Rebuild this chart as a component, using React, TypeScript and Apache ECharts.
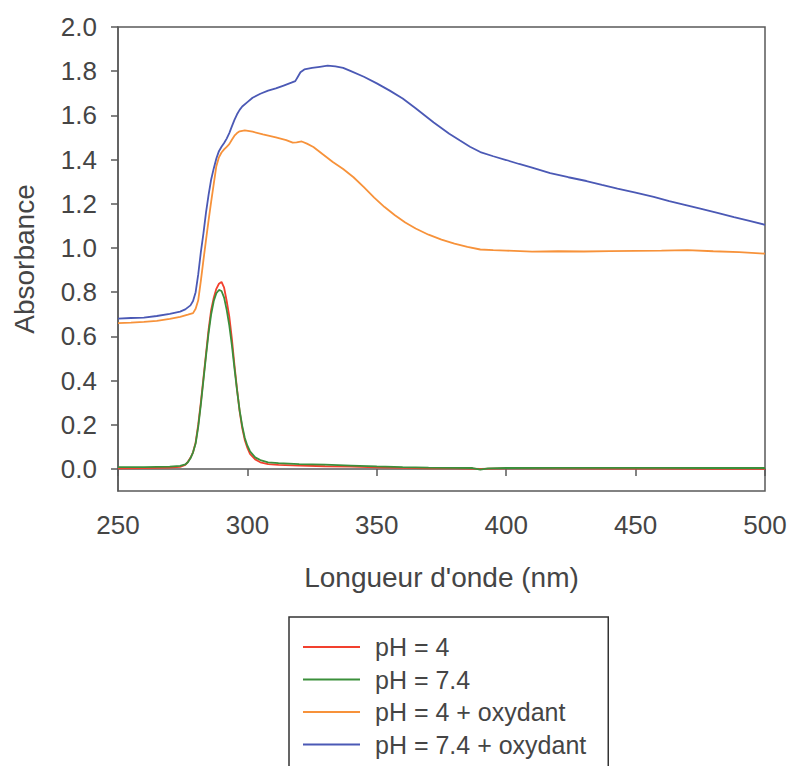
import React, { useEffect, useRef } from "react";
import * as echarts from "echarts";

const seriesNames = ["pH = 4", "pH = 7.4", "pH = 4 + oxydant", "pH = 7.4 + oxydant"];
const seriesColors = ["#f2402e", "#3b8f3b", "#f7923a", "#4b59b5"];

const xTicks = [250, 300, 350, 400, 450, 500];
const yTicks = [0, 0.2, 0.4, 0.6, 0.8, 1.0, 1.2, 1.4, 1.6, 1.8, 2.0];

const ph4X = [250, 260, 270, 274, 276, 277, 278, 279, 280, 281, 282, 283, 284, 285, 286, 287, 288, 289, 290, 291, 292, 293, 294, 295, 296, 297, 298, 299, 300, 301, 303, 305, 308, 312, 320, 330, 340, 350, 360, 370, 380, 390, 400, 420, 440, 460, 480, 500];
const ph4Y = [0.002, 0.004, 0.006, 0.009, 0.018, 0.032, 0.05, 0.075, 0.12, 0.2, 0.3, 0.41, 0.52, 0.63, 0.72, 0.775, 0.815, 0.838, 0.846, 0.82, 0.76, 0.69, 0.59, 0.47, 0.36, 0.26, 0.185, 0.13, 0.095, 0.068, 0.043, 0.03, 0.022, 0.018, 0.015, 0.012, 0.01, 0.007, 0.005, 0.003, 0.002, 0.0, 0.002, 0.002, 0.001, 0.001, 0.0, 0.0];

const ph74X = [250, 260, 270, 274, 276, 277, 278, 279, 280, 281, 282, 283, 284, 285, 286, 287, 288, 289, 290, 291, 292, 293, 294, 295, 296, 297, 298, 299, 300, 301, 303, 305, 308, 312, 320, 330, 340, 350, 360, 370, 380, 387, 390, 393, 400, 420, 440, 460, 480, 500];
const ph74Y = [0.008, 0.008, 0.01, 0.014, 0.02, 0.03, 0.048, 0.075, 0.115, 0.19, 0.29, 0.4, 0.51, 0.615, 0.7, 0.76, 0.795, 0.81, 0.805, 0.775, 0.72, 0.65, 0.56, 0.455, 0.355, 0.265, 0.195, 0.14, 0.105, 0.08, 0.052, 0.04, 0.03, 0.026, 0.022, 0.019, 0.015, 0.011, 0.008, 0.006, 0.005, 0.004, -0.003, 0.002, 0.004, 0.005, 0.005, 0.005, 0.004, 0.004];

const ph4OxX = [250, 255, 260, 265, 270, 274, 277, 279, 280, 281, 282, 283, 284, 285, 286, 287, 288, 289, 290, 291, 292, 293, 294, 295, 296, 297, 299, 302, 306, 311, 315, 317.5, 319, 321, 323, 325.5, 329, 333, 337, 341, 345, 349, 353, 357, 361, 365, 370, 375, 380, 385, 390, 395, 400, 410, 420, 430, 440, 450, 460, 470, 480, 490, 500];
const ph4OxY = [0.66, 0.662, 0.665, 0.67, 0.679, 0.688, 0.698, 0.705, 0.725, 0.763, 0.85, 0.944, 1.035, 1.125, 1.21, 1.29, 1.37, 1.41, 1.432, 1.446, 1.458, 1.47, 1.49, 1.508, 1.52, 1.528, 1.532, 1.526, 1.514, 1.5, 1.488, 1.477, 1.478, 1.482, 1.472, 1.457, 1.425, 1.389, 1.357, 1.32, 1.275, 1.228, 1.185, 1.148, 1.115, 1.088, 1.06, 1.038, 1.02, 1.005, 0.993, 0.99, 0.988, 0.983, 0.985, 0.984, 0.986, 0.987, 0.988, 0.99, 0.985, 0.981, 0.974];

const ph74OxX = [250, 255, 260, 265, 270, 274, 276, 278, 279, 280, 281, 282, 283, 284, 285, 286, 287, 288, 289, 290, 291, 292, 293, 294, 295, 296, 297, 298, 300, 302, 305, 308, 311, 314, 317, 318.5, 319.5, 320.5, 322, 325, 328, 331, 334, 337, 340, 345, 350, 355, 360, 365, 372, 378, 382, 386, 390, 395, 400, 405, 410, 417, 424, 431, 437, 443, 450, 457, 463, 469, 475, 482, 488, 494, 500];
const ph74OxY = [0.68, 0.683, 0.685, 0.692, 0.702, 0.712, 0.722, 0.74, 0.76, 0.8, 0.88, 0.98, 1.065, 1.16, 1.24, 1.31, 1.36, 1.405, 1.438, 1.458, 1.475, 1.495, 1.52, 1.55, 1.58, 1.605, 1.625, 1.64, 1.66, 1.68, 1.698, 1.712, 1.722, 1.735, 1.748, 1.755, 1.775, 1.795, 1.808, 1.815, 1.82, 1.825, 1.822, 1.815, 1.8, 1.775, 1.745, 1.712, 1.676, 1.632, 1.568, 1.517, 1.487, 1.458, 1.434, 1.415, 1.398, 1.38, 1.364, 1.339, 1.32, 1.303, 1.285, 1.268, 1.25, 1.231, 1.212, 1.195, 1.178, 1.158, 1.139, 1.122, 1.105];

const seriesX = [ph4X, ph74X, ph4OxX, ph74OxX];
const seriesY = [ph4Y, ph74Y, ph4OxY, ph74OxY];

const FONT = "'Liberation Sans', Arial, sans-serif";
const AXIS_COLOR = "#5a5a5a";
const TEXT_COLOR = "#454545";

export default function App() {
  const ref = useRef<HTMLDivElement>(null);

  useEffect(() => {
    if (!ref.current) return;
    const chart = echarts.init(ref.current, null, { renderer: "svg" });
    const series = seriesNames.map((name, i) => ({
      name,
      type: "line",
      data: seriesX[i].map((x, j) => [x, seriesY[i][j]]),
      symbol: "none",
      lineStyle: { color: seriesColors[i], width: 1.8 },
      itemStyle: { color: seriesColors[i] },
      z: 2 + i,
    }));
    chart.setOption({
      animation: false,
      backgroundColor: "#ffffff",
      textStyle: { fontFamily: FONT },
      grid: {
        left: 118,
        right: 27,
        top: 27,
        bottom: 275,
        show: true,
        borderColor: AXIS_COLOR,
        borderWidth: 1.5,
        backgroundColor: "transparent",
      },
      xAxis: {
        type: "value",
        min: 250,
        max: 500,
        interval: 50,
        name: "Longueur d'onde (nm)",
        nameLocation: "middle",
        nameGap: 72,
        nameTextStyle: { fontSize: 28, color: TEXT_COLOR, fontFamily: FONT },
        axisLine: { show: true, lineStyle: { color: AXIS_COLOR, width: 1.5 } },
        axisTick: { show: true, inside: false, length: 7, lineStyle: { color: AXIS_COLOR, width: 1.5 }, customValues: xTicks },
        axisLabel: { fontSize: 26, color: TEXT_COLOR, margin: 21, fontFamily: FONT, customValues: xTicks },
        splitLine: { show: false },
      },
      yAxis: {
        type: "value",
        min: -0.1,
        max: 2.0,
        name: "Absorbance",
        nameLocation: "middle",
        nameGap: 80,
        nameRotate: 90,
        nameTextStyle: { fontSize: 28, color: TEXT_COLOR, fontFamily: FONT },
        axisLine: { show: true, lineStyle: { color: AXIS_COLOR, width: 1.5 } },
        axisTick: { show: true, inside: false, length: 7, lineStyle: { color: AXIS_COLOR, width: 1.5 }, customValues: yTicks },
        axisLabel: {
          fontSize: 26,
          color: TEXT_COLOR,
          margin: 21,
          fontFamily: FONT,
          customValues: yTicks,
          formatter: (v: number) => v.toFixed(1),
        },
        splitLine: { show: false },
      },
      legend: {
        show: true,
        orient: "vertical",
        left: 289,
        top: 617,
        height: 200,
        data: seriesNames,
        icon: "rect",
        itemWidth: 57,
        itemHeight: 2,
        itemGap: 6.5,
        padding: [17, 22, 17, 14],
        borderColor: "#333333",
        borderWidth: 1.5,
        backgroundColor: "#ffffff",
        textStyle: { fontSize: 25, color: TEXT_COLOR, fontFamily: FONT, lineHeight: 26, padding: [0, 0, 0, 10] },
      },
      series,
    });
    return () => chart.dispose();
  }, []);

  return (
    <div
      ref={ref}
      style={{ position: "fixed", left: 0, top: 0, width: 792, height: 766, background: "#fff" }}
    />
  );
}
